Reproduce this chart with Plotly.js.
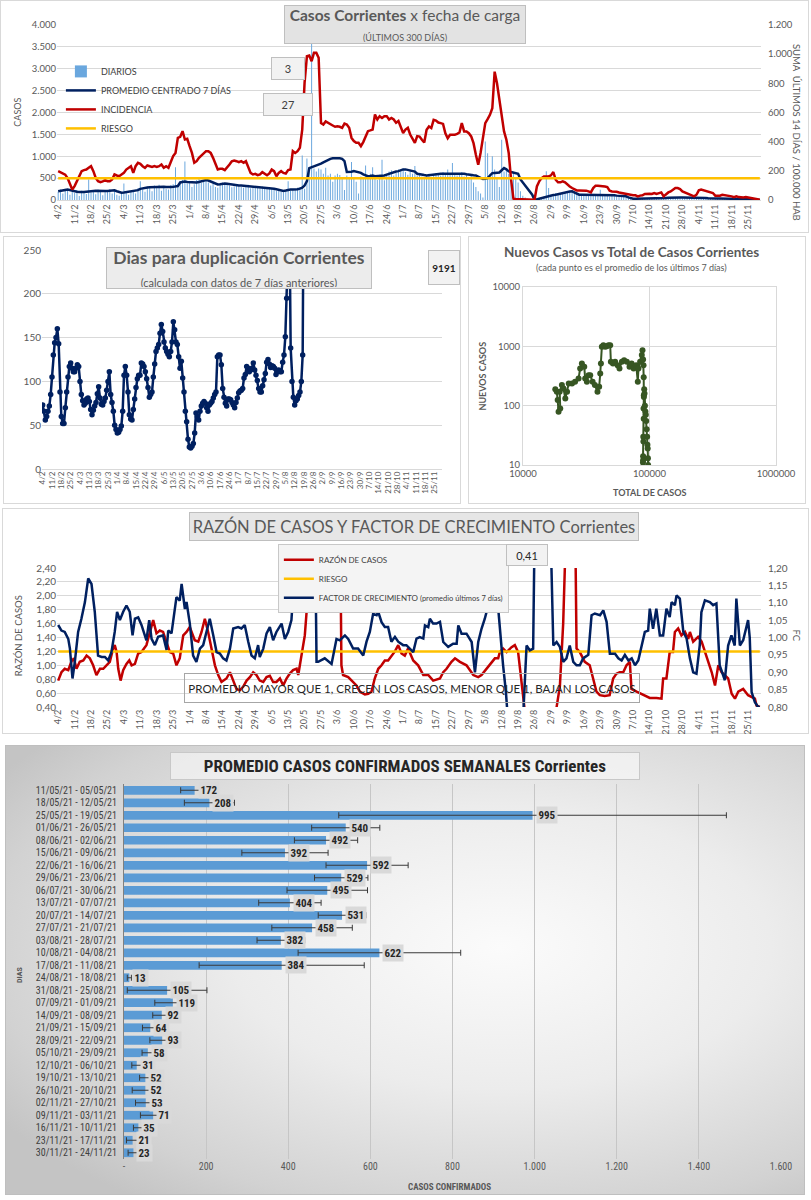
<!DOCTYPE html>
<html lang="es">
<head>
<meta charset="utf-8">
<title>Corrientes</title>
<script src="https://cdn.plot.ly/plotly-3.0.1.min.js"></script>
<style>
html,body{margin:0;padding:0;background:#ffffff;}
body{position:relative;width:811px;height:1200px;overflow:hidden;}
.panel{position:absolute;outline:1px solid #d9d9d9;outline-offset:-1px;background:#ffffff;}
#c5{background:radial-gradient(ellipse 75% 70% at 62% 45%, #fbfbfb 0%, #ececec 45%, #d2d2d2 85%, #c4c4c4 100%);outline-color:#bfbfbf;}
</style>
</head>
<body>
<div id="c1" class="panel" style="left:0px;top:0px;width:809px;height:233px;"></div>
<div id="c2" class="panel" style="left:3px;top:236px;width:458px;height:268px;"></div>
<div id="c3" class="panel" style="left:468px;top:236px;width:338px;height:268px;"></div>
<div id="c4" class="panel" style="left:2px;top:508px;width:807px;height:226px;"></div>
<div id="c5" class="panel" style="left:5px;top:745px;width:800px;height:450px;"></div>
<script>
// ================= DATA =================
const START_DATE = '2021-02-04';   // day 0 of the 300-day window

// Chart 1: daily cases (left axis, CASOS)
const diarios = [
 190,240,150,260,230,120,200, 160,230,90,210,180,140,470, 170,220,130,240,190,110,230,
 210,250,150,240,120,100,180, 380,160,120,200,230,150,270, 430,240,190,310,280,200,330,
 290,350,210,320,260,240,340, 360,750,320,420,460,880,380, 410,300,360,460,520,390,450,
 480,400,330,380,300,280,390, 400,350,380,330,290,310,360, 340,300,280,320,350,270,300,
 320,290,270,310,280,260,290, 260,240,210,230,190,180,220, 430,210,230,250,280,300,1020,
 260,950,680,5000,720,650,720, 700,600,740,560,600,420,560, 600,570,480,230,560,480,870,
 500,420,150,540,480,790,560, 600,750,500,460,580,920,450, 600,650,680,560,620,700,660,
 720,640,580,690,600,780,560, 600,540,500,560,600,520,580, 620,580,560,640,600,700,580,
 845,600,560,620,640,540,600, 520,560,400,300,200,150,60, 1340,1070,600,1000,700,500,300,
 1375,650,700,600,550,640,500, 400,200,100,60,30,10,5, 0,20,40,60,80,655,275,
 120,140,160,130,150,180,170, 190,200,180,160,140,130,110, 120,110,130,100,90,120,110,
 235,100,90,110,80,100,110, 90,100,80,70,90,50,40, 30,25,35,30,25,30,35,
 30,25,30,35,30,25,30, 45,50,60,55,65,60,70, 60,55,65,60,50,65,60,
 70,55,50,45,40,35,40, 35,30,40,35,30,35,30, 30,25,30,20,25,20,25, 20,15,10,10,5,5
];
// 7-day centred average (left axis)
const promedio = [
 200,205,215,230,240,225,205,195,190,185, 180,185,190,200,200,205,210,205,200,200,
 205,205,210,215,220,200,175,165,170,180, 190,200,205,210,225,255,270,280,285,290,
 295,300,300,305,310,305,295,290,295,300, 305,320,400,415,420,410,405,400,395,400,
 410,430,450,455,445,420,400,375,355,360, 375,375,370,360,345,340,335,330,330,325,
 320,315,315,315,310,305,300,295,290,285, 275,265,255,245,230,220,205,215,235,240,
 240,240,245,260,280,330,430,730,750,760, 775,800,830,860,890,920,940,955,960,960,
 955,940,890,640,635,645,660,650,640,620, 585,560,545,550,560,545,550,555,550,560,
 580,600,620,640,650,660,680,700,700,690, 685,670,650,600,585,575,570,562,570,580,
 585,593,597,600,600,600,605,610,615,615, 615,615,610,600,590,577,570,565,562,540,
 500,479,485,500,560,615,620,625,630,680, 730,700,655,640,625,615,600,470,400,330,
 270,210,120,0,15,30,50,70,84,95, 105,115,121,135,150,165,174,185,195,198,
 170,140,121,121,121,121,121,115,110,107, 107,107,107,107,107,107,107,107,100,95,
 90,87,84,60,40,30,30,30,30,30, 30,30,30,30,30,30,30,30,30,45,
 50,55,60,60,60,60,60,60,60,60, 60,60,60,60,55,50,45,40,35,35,
 35,35,35,35,35,35,30,30,25,25, 25,25,22,20,20,15,12,8,4,0
];
// 14-day incidence per 100.000 inhabitants (right axis)
const incidencia = [
 198,190,185,174,151,106,72,95,129,163, 198,205,209,221,232,198,152,129,122,128,
 136,129,129,141,175,168,163,175,186,209, 221,232,186,232,255,248,232,221,237,232,
 227,232,227,232,243,221,232,221,255,301, 323,426,433,472,415,420,369,323,255,266,
 289,305,323,335,335,323,289,243,209,214, 214,205,221,243,266,271,266,259,266,255,
 266,232,186,175,179,170,175,191,179,170, 182,209,198,163,186,198,186,182,205,209,
 335,323,335,358,483,803,986,991,952,1009, 1009,975,528,517,539,528,517,511,502,506,
 502,495,524,517,495,426,404,392,392,369, 397,438,472,477,483,586,552,575,563,575,
 575,552,563,552,529,541,502,460,483,495, 449,415,392,438,435,413,394,481,504,493,
 550,545,531,527,522,458,424,447,447,447, 454,463,527,470,470,458,436,390,310,242,
 322,436,527,554,584,629,880,800,686,550, 470,413,322,139,9,7,7,7,7,7,
 7,7,7,2,93,128,150,162,162,162, 169,192,139,121,121,128,121,105,93,82,
 75,66,66,66,64,64,59,52,82,98, 98,98,98,93,89,64,59,59,57,52,
 48,48,41,36,36,32,32,25,30,32, 41,43,43,41,48,41,48,52,25,41,
 52,59,71,82,82,75,59,52,43,36, 34,25,36,66,71,66,59,55,52,48,
 30,30,30,36,34,30,25,25,20,25, 20,18,18,20,18,14,11,9,5,2
];
const RIESGO_INCIDENCIA = 150;

// Chart 2: doubling days (one value per day from day 0)
const duplicacion = [
 73,66,56,60,66,72,85,105,130,144, 150,160,143,88,60,52,52,70,88,105,
 117,121,115,111,111,115,119,117,100,85, 78,73,75,80,81,77,68,62,67,72,
 76,86,94,81,74,73,77,81,90,100, 111,85,76,66,50,45,41,42,45,49,
 66,107,117,107,88,62,57,56,68,80, 93,103,107,107,121,120,117,111,103,93,
 82,85,88,105,120,134,138,142,155,165, 157,145,138,134,131,128,134,145,168,159,
 145,142,128,115,123,104,88,66,54,34, 25,24,26,29,41,64,60,56,66,72,
 75,77,75,70,66,73,75,77,81,85, 88,128,130,130,119,92,82,75,72,80,
 80,79,76,73,70,76,81,87,89,90, 92,104,108,117,115,111,113,115,121,113,
 107,101,92,88,88,95,102,109,122,125, 120,116,118,117,115,108,111,113,111,111,
 122,130,151,195,260,300,138,100,82,73, 78,80,84,88,100,130,400
];

// Chart 3: new cases vs total cases (7-day averages)
const totalCasos = [18000,18500,18800,19100,19700,19500,20300,20900,21600,22300,23000,24400,25800,27500,28300,29200,30500,31000,32000,33000,34000,35500,37000,38800,40000,40800,41300,42000,43200,44600,46000,47400,48900,49500,51400,53500,55900,57900,60500,63000,66200,69500,72200,74900,78500,80800,81800,84300,86900,88000,89000,89700,90000,90200,90000,89500,89000,88800,89000,89300,89700,90300,90800,91300,92000,92800,93500,94200,95000,95800,96300,96800,97200,97500];
const nuevosCasos = [190,171,124,79,90,171,222,195,132,171,236,236,253,287,423,514,451,287,253,327,327,253,222,171,208,348,514,980,1040,980,1000,1040,1040,550,514,550,480,423,550,585,550,451,514,423,480,253,423,550,711,860,600,480,300,150,60,25,14,11,12,30,90,140,190,160,100,80,70,55,40,30,22,19,13,10];
const logXTicks = [10000,100000,1000000];
const logXText = ['10000','100000','1000000'];
const logYTicks = [10,100,1000,10000];
const logYText = ['10','100','1000','10000'];

// Chart 4: case ratio (left) and growth factor (right), [day, value]
const razonCasos = [[0,0.78],[1.4,0.90],[2.8,0.95],[4.3,0.93],[5.7,1.06],[6.7,1.10],[7.8,0.95],[9.2,1.05],[10.7,1.07],[12.1,1.14],[13.5,1.10],[14.9,1.00],[16.3,0.86],[17.8,0.95],[19.2,0.95],[20.6,1.00],[22,1.05],[23.4,1.24],[24.1,1.29],[24.9,1.19],[25.6,0.95],[26.6,0.78],[27.7,0.93],[29.1,1.02],[30.3,1.07],[31.3,1.00],[32.7,1.02],[34.1,1.17],[35.5,1.19],[37.6,1.29],[39.1,1.50],[40.5,1.65],[41.9,1.46],[43.3,1.50],[44.7,1.48],[46.2,1.34],[47.6,1.19],[49,1.17],[50.4,1.00],[51.8,1.10],[53.3,1.43],[54.7,1.48],[56.1,1.55],[58.2,1.36],[59.7,1.34],[61.1,1.48],[62.5,1.67],[63.9,1.48],[65.3,1.24],[66.8,1.00],[68.2,0.86],[69.6,0.76],[71.7,0.81],[73.2,0.90],[74.6,0.78],[76,0.66],[77.4,0.64],[78.8,0.69],[80.3,0.78],[81.7,0.83],[83.1,0.90],[84.5,0.86],[85.9,0.78],[87.4,0.76],[88.8,0.83],[90.2,0.85],[91.6,0.76],[93,0.76],[94.5,0.81],[95.9,0.71],[97.3,0.81],[98.7,0.88],[100.1,0.93],[101.6,0.95],[102.3,0.86],[103.7,1.14],[105.1,1.43],[106.5,2.05],[107.2,2.45],[109,3.2],[112,3.8],[116,3.5],[120.3,2.5],[120.7,1.00],[121.4,0.86],[123.6,0.83],[125.7,0.76],[127.1,0.71],[128.6,0.62],[130.7,0.58],[132.1,0.59],[133.5,0.62],[134.9,0.81],[136.4,0.95],[137.8,1.00],[139.2,1.07],[140.6,1.07],[142,1.14],[143.5,1.20],[144.9,1.29],[146.3,1.17],[147.7,1.14],[149.1,1.24],[151.3,1.07],[153.4,1.00],[155.6,0.86],[157.7,0.86],[159.8,0.78],[162.7,0.81],[164.1,0.90],[165.5,0.95],[167.6,1.05],[169.1,1.10],[171.2,1.05],[174,1.00],[176.9,0.86],[179,0.83],[180.4,0.86],[182.5,0.95],[184.7,1.05],[186.1,1.10],[187.5,1.10],[188.2,1.19],[189.6,1.24],[191.1,1.19],[193.2,1.26],[194.6,1.29],[196,1.19],[197.5,0.76],[198.9,0.42],[200,0],[212,0],[212.4,0.40],[213.8,0.70],[215.2,1.60],[216,2.5],[218,3.5],[220.5,2.5],[220.9,1.24],[222.3,1.19],[224.4,1.05],[226.5,1.00],[227.9,0.81],[229.4,0.62],[230.8,0.57],[232.9,0.56],[235,0.57],[236.5,0.81],[237.9,0.88],[239.3,0.90],[240.8,0.90],[242.2,1.00],[243.6,1.05],[244.3,0.66],[246.5,0.62],[249.3,0.57],[252.1,0.53],[255,0.53],[257.1,0.52],[257.8,0.81],[259.2,0.81],[260.6,1.19],[262,1.19],[262.8,1.48],[264.2,1.53],[265.6,1.43],[267.1,1.48],[268.5,1.38],[269.2,1.48],[270.6,1.34],[272.7,1.41],[274.2,1.34],[276.3,1.14],[278.5,0.90],[279.9,0.71],[281.3,1.00],[282.7,0.90],[284.1,0.86],[285.5,0.81],[287,0.59],[288.4,0.52],[289.8,0.62],[291.9,0.66],[294,0.57],[295.4,0.54],[296.9,0.52],[297.6,0.42],[299,0.40]];
const factorCrec = [[0,1.036],[1.4,1.020],[2.8,1.016],[4.3,0.996],[5,0.968],[6.1,0.882],[7.1,0.930],[8.5,1.016],[9.9,1.054],[11.4,1.102],[12.8,1.170],[14.2,1.154],[15.6,1.074],[17,0.948],[18.5,0.944],[19.9,0.944],[21.3,0.934],[22.7,0.958],[24.1,1.016],[25.1,1.074],[26.3,1.050],[27.7,1.074],[29.1,1.092],[30.5,1.074],[31.7,1.006],[32.7,1.054],[34.1,1.058],[35.5,1.036],[37.6,0.992],[38.8,1.050],[39.8,0.996],[41.2,0.978],[42.6,1.002],[44.7,1.006],[46.2,0.964],[46.9,1.020],[48.3,1.012],[49.3,1.064],[50.4,1.116],[51.8,1.106],[52.6,1.154],[54,1.082],[54.7,1.102],[56.1,1.040],[57.5,0.948],[58.9,0.930],[60.4,0.968],[61.8,0.978],[63.2,1.020],[64.6,1.054],[66.1,1.006],[67.5,0.958],[68.9,0.954],[70.3,0.940],[71.7,0.934],[73.2,0.968],[74.6,1.026],[76.7,1.030],[78.1,1.026],[79.5,1.036],[81,0.988],[82.4,0.948],[83.8,0.940],[85.2,0.978],[85.9,0.944],[87.4,0.968],[88.8,1.012],[90.2,1.030],[91.6,0.992],[93,1.016],[95.2,1.040],[96.6,0.996],[98,1.016],[99.4,1.050],[100.1,1.122],[101.3,1.092],[102.3,1.102],[103,1.150],[104.4,1.25],[106,1.40],[108,1.45],[109.5,1.30],[110.1,0.930],[110.8,0.930],[113.6,0.940],[116.5,0.924],[118.6,0.996],[120,0.992],[122.2,1.006],[123.6,0.996],[125.7,0.968],[127.8,0.968],[130,0.948],[131.4,0.988],[132.8,1.016],[134.2,1.068],[135.7,1.064],[136.4,1.074],[137.8,1.044],[139.2,1.030],[140.6,1.030],[142,0.988],[143.5,1.002],[144.9,0.988],[147,0.978],[148.4,0.978],[149.9,0.968],[151.3,0.958],[152.7,0.997],[154.1,1.001],[155.6,0.997],[156.3,1.035],[157.7,1.030],[158.4,1.054],[159.8,1.040],[161.2,1.040],[162.7,1.045],[164.1,0.987],[166.2,0.973],[168.3,0.982],[169.8,0.982],[170.5,1.035],[171.9,1.011],[174,1.011],[176.2,0.987],[177.6,0.900],[179,0.987],[180.4,1.025],[181.8,1.054],[183.3,1.093],[184.7,1.198],[185.4,1.30],[186.8,1.14],[188.2,1.025],[189.6,0.92],[190.8,0.843],[191.8,0.75],[195,0.70],[198.2,0.78],[199.6,0.977],[201,0.963],[202.4,0.968],[203.2,1.40],[206,1.50],[209.5,1.40],[211,0.977],[212.4,0.987],[213.8,0.973],[215.2,0.93],[216.6,0.94],[218,0.977],[219.5,0.93],[220.9,0.92],[222.3,0.92],[223.7,0.94],[225.9,0.95],[227.3,1.064],[228.7,1.069],[230.9,1.064],[232.3,1.078],[233.7,1.045],[235.1,0.953],[237.3,0.953],[238.7,0.94],[240.1,0.934],[241.5,0.95],[243,0.934],[244.4,0.94],[245.8,0.92],[247.2,0.934],[248.6,0.977],[250,1.016],[251.4,1.02],[252.1,1.083],[253.5,1.025],[254.9,1.083],[256.4,1.006],[257.8,1.006],[259.2,1.083],[260.6,1.059],[261.4,1.102],[262.8,1.093],[263.5,1.121],[264.9,1.112],[266.4,1.016],[267.8,0.997],[269.2,0.94],[270.6,0.90],[272,0.896],[273.4,0.977],[274.1,1.073],[275.6,1.107],[277.7,1.102],[279.1,1.093],[280.5,1.098],[281.9,0.92],[284.1,0.877],[285.5,0.977],[286.9,1.006],[288.3,0.977],[289,1.112],[290.5,0.977],[291.9,0.992],[294,1.05],[294.7,1.0],[295.5,0.843],[296.9,0.814],[298.3,0.80],[299,0.80]];
const RIESGO_RAZON = 1.2;

// Chart 5: weekly averages of confirmed cases
const semanas = ['11/05/21 - 05/05/21','18/05/21 - 12/05/21','25/05/21 - 19/05/21','01/06/21 - 26/05/21','08/06/21 - 02/06/21','15/06/21 - 09/06/21','22/06/21 - 16/06/21','29/06/21 - 23/06/21','06/07/21 - 30/06/21','13/07/21 - 07/07/21','20/07/21 - 14/07/21','27/07/21 - 21/07/21','03/08/21 - 28/07/21','10/08/21 - 04/08/21','17/08/21 - 11/08/21','24/08/21 - 18/08/21','31/08/21 - 25/08/21','07/09/21 - 01/09/21','14/09/21 - 08/09/21','21/09/21 - 15/09/21','28/09/21 - 22/09/21','05/10/21 - 29/09/21','12/10/21 - 06/10/21','19/10/21 - 13/10/21','26/10/21 - 20/10/21','02/11/21 - 27/10/21','09/11/21 - 03/11/21','16/11/21 - 10/11/21','23/11/21 - 17/11/21','30/11/21 - 24/11/21'];
const promSemanal = [172,208,995,540,492,392,592,529,495,404,531,458,382,622,384,13,105,119,92,64,93,58,31,52,52,53,71,35,21,23];
const errSemanal = [34,61,472,83,77,105,100,65,98,76,58,98,58,198,201,5,97,44,22,19,30,14,12,14,32,25,31,12,15,13];
const semXTicks = [0,200,400,600,800,1000,1200,1400,1600];
const semXText = ['-','200','400','600','800','1.000','1.200','1.400','1.600'];

// ================= HELPERS =================
const FONT = 'Lato, "Open Sans", sans-serif';
const NARROW = '"Liberation Sans Narrow", "Roboto Condensed", Roboto, sans-serif';
const TXT = '#595959';
const CFG = {staticPlot:true, displayModeBar:false};
const DAY_MS = 86400000;
const T0 = Date.parse(START_DATE + 'T00:00:00Z');
function dayToDate(d){ return new Date(T0 + d*DAY_MS).toISOString().replace('T',' ').slice(0,19); }
function frame(W,H,M){ return { X: p => (p - M.l)/(W - M.l - M.r), Y: p => 1 - (p - M.t)/(H - M.t - M.b) }; }
function note(f, cx, cy, text, font, extra){
  return Object.assign({xref:'paper', yref:'paper', x:f.X(cx), y:f.Y(cy), xanchor:'center', yanchor:'middle',
    showarrow:false, text:text, font:font, align:'center', valign:'middle'}, extra || {});
}
function dateAxis(fs){
  return {type:'date', range:[dayToDate(-0.5), dayToDate(299.5)], tick0:dayToDate(0), dtick:7*DAY_MS,
    tickformat:'%-d/%-m', tickangle:-90, tickfont:{size:fs, color:TXT}, showgrid:false, zeroline:false,
    ticks:'', automargin:false};
}

// ================= CHART 1 =================
(function(){
  const W=809, H=233, M={l:57.1, r:47.8, t:25, b:32.5, pad:0};
  const f = frame(W,H,M);
  const x = diarios.map((_,i)=>dayToDate(i));
  const data = [
    {type:'bar', x:x, y:diarios, name:'DIARIOS', marker:{color:'#6aa7de'}},
    {type:'scatter', mode:'lines', x:x, y:promedio, name:'PROMEDIO CENTRADO 7 DÍAS', line:{color:'#002060', width:2.5}},
    {type:'scatter', mode:'lines', x:x, y:incidencia, yaxis:'y2', name:'INCIDENCIA', line:{color:'#c00000', width:2.5}},
    {type:'scatter', mode:'lines', x:x, y:x.map(()=>RIESGO_INCIDENCIA), yaxis:'y2', name:'RIESGO', line:{color:'#ffc000', width:2.5}}
  ];
  const layout = {
    width:W, height:H, margin:M, paper_bgcolor:'rgba(0,0,0,0)', plot_bgcolor:'rgba(0,0,0,0)',
    separators:',.', font:{family:FONT, color:TXT, size:9.5}, bargap:0.58,
    showlegend:true,
    legend:{x:f.X(61), y:f.Y(57), xanchor:'left', yanchor:'top', bgcolor:'rgba(0,0,0,0)',
      font:{size:9, color:'#404040'}, tracegroupgap:0, traceorder:'normal'},
    xaxis: Object.assign(dateAxis(9), {showline:true, linecolor:'#d9d9d9'}),
    yaxis:{range:[0,4000], dtick:500, tickformat:',d', gridcolor:'#d9d9d9', zeroline:false, ticks:'',
      tickfont:{size:9.5, color:TXT}, automargin:false},
    yaxis2:{overlaying:'y', side:'right', range:[0,1200], dtick:200, tickformat:',d', showgrid:false,
      zeroline:false, ticks:'', tickfont:{size:9.5, color:TXT}, automargin:false, ticklabelstandoff:6},
    annotations:[
      note(f, 405, 24.5, '<b>Casos Corrientes</b> x fecha de carga<br><span style="font-size:9px">(ÚLTIMOS 300 DÍAS)</span>',
        {size:15.5, color:TXT, family:FONT}, {bgcolor:'#e3e3e3', bordercolor:'#bfbfbf', borderwidth:1, width:238, height:35}),
      note(f, 288.5, 68.5, '3', {size:11, color:'#404040', family:FONT}, {bgcolor:'#f2f2f2', bordercolor:'#bfbfbf', borderwidth:1, width:30, height:19}),
      note(f, 288.5, 105, '27', {size:11, color:'#404040', family:FONT}, {bgcolor:'#f2f2f2', bordercolor:'#bfbfbf', borderwidth:1, width:46, height:19}),
      note(f, 18, 112, 'CASOS', {size:9, color:TXT, family:FONT}, {textangle:-90}),
      note(f, 797, 133, 'SUMA  ÚLTIMOS 14 DÍAS / 100.000 HAB', {size:9.5, color:TXT, family:FONT}, {textangle:90})
    ]
  };
  Plotly.newPlot('c1', data, layout, CFG);
})();

// ================= CHART 2 =================
(function(){
  const W=458, H=268, M={l:39, r:18.8, t:14, b:34.7, pad:0};
  const f = frame(W,H,M);
  const x = duplicacion.map((_,i)=>dayToDate(i));
  const data = [{type:'scatter', mode:'lines+markers', x:x, y:duplicacion, name:'Días',
    line:{color:'#002060', width:2.5}, marker:{color:'#002060', size:5.5}, cliponaxis:true}];
  const layout = {
    width:W, height:H, margin:M, paper_bgcolor:'rgba(0,0,0,0)', plot_bgcolor:'rgba(0,0,0,0)',
    separators:',.', font:{family:FONT, color:TXT}, showlegend:false,
    xaxis: dateAxis(8),
    yaxis:{range:[0,250], dtick:50, gridcolor:'#d9d9d9', zeroline:true, zerolinecolor:'#d9d9d9', ticks:'',
      tickfont:{size:10, color:TXT}, automargin:false},
    annotations:[
      note(f, 236, 32, '<b>Dias para duplicación Corrientes</b><br><span style="font-size:11px">(calculada con datos de 7 días anteriores)</span>',
        {size:17.5, color:TXT, family:FONT}, {bgcolor:'#ececec', bordercolor:'#bfbfbf', borderwidth:1, width:262, height:38}),
      note(f, 441, 31.5, '<b>9191</b>', {size:10, color:'#262626', family:FONT}, {bgcolor:'#f2f2f2', bordercolor:'#bfbfbf', borderwidth:1, width:28, height:31})
    ]
  };
  Plotly.newPlot('c2', data, layout, CFG);
})();

// ================= CHART 3 =================
(function(){
  const W=338, H=268, M={l:54.7, r:30, t:50.7, b:39, pad:0};
  const f = frame(W,H,M);
  const data = [{type:'scatter', mode:'lines+markers', x:totalCasos, y:nuevosCasos,
    line:{color:'#375623', width:2}, marker:{color:'#375623', size:6}}];
  const layout = {
    width:W, height:H, margin:M, paper_bgcolor:'rgba(0,0,0,0)', plot_bgcolor:'rgba(0,0,0,0)',
    font:{family:FONT, color:TXT}, showlegend:false,
    xaxis:{type:'log', range:[4,6], tickmode:'array', tickvals:logXTicks, ticktext:logXText,
      gridcolor:'#d9d9d9', showline:true, mirror:true, linecolor:'#d9d9d9', zeroline:false, ticks:'',
      tickfont:{size:9.5, color:TXT}, automargin:false},
    yaxis:{type:'log', range:[1,4], tickmode:'array', tickvals:logYTicks, ticktext:logYText,
      gridcolor:'#d9d9d9', showline:true, mirror:true, linecolor:'#d9d9d9', zeroline:false, ticks:'',
      tickfont:{size:9.5, color:TXT}, automargin:false},
    annotations:[
      note(f, 163, 16, '<b>Nuevos Casos vs Total de Casos Corrientes</b>', {size:13.5, color:TXT, family:FONT}),
      note(f, 163, 31, '(cada punto es el promedio de los últimos 7 días)', {size:9, color:TXT, family:FONT}),
      note(f, 14, 140, '<b>NUEVOS CASOS</b>', {size:9, color:TXT, family:FONT}, {textangle:-90}),
      note(f, 181, 257, '<b>TOTAL DE CASOS</b>', {size:9, color:TXT, family:FONT})
    ]
  };
  Plotly.newPlot('c3', data, layout, CFG);
})();

// ================= CHART 4 =================
(function(){
  const W=807, H=226, M={l:55.1, r:47.8, t:59.7, b:27.3, pad:0};
  const f = frame(W,H,M);
  const xr = razonCasos.map(p=>dayToDate(p[0]));
  const xf = factorCrec.map(p=>dayToDate(p[0]));
  const xAll = diarios.map((_,i)=>dayToDate(i));
  const data = [
    {type:'scatter', mode:'lines', x:xr, y:razonCasos.map(p=>p[1]), name:'RAZÓN DE CASOS', line:{color:'#c00000', width:2.5}},
    {type:'scatter', mode:'lines', x:xAll, y:xAll.map(()=>RIESGO_RAZON), name:'RIESGO', line:{color:'#ffc000', width:2.5}},
    {type:'scatter', mode:'lines', x:xf, y:factorCrec.map(p=>p[1]), yaxis:'y2', name:'FACTOR DE CRECIMIENTO <span style="font-size:7.5px">(promedio últimos 7 días)</span>', line:{color:'#002060', width:2.5}}
  ];
  const layout = {
    width:W, height:H, margin:M, paper_bgcolor:'rgba(0,0,0,0)', plot_bgcolor:'rgba(0,0,0,0)',
    separators:',.', font:{family:FONT, color:TXT}, showlegend:true,
    legend:{x:f.X(276), y:f.Y(36), xanchor:'left', yanchor:'top', bgcolor:'#f4f4f4', bordercolor:'#c8c8c8', borderwidth:1,
      font:{size:8, color:'#404040'}, tracegroupgap:0, traceorder:'normal'},
    xaxis: dateAxis(9),
    yaxis:{range:[0.4,2.4], dtick:0.2, tickformat:'.2f', gridcolor:'#d9d9d9', zeroline:false, ticks:'',
      tickfont:{size:10, color:TXT}, automargin:false},
    yaxis2:{overlaying:'y', side:'right', range:[0.8,1.2], dtick:0.05, tickformat:'.2f', showgrid:false,
      zeroline:false, ticks:'', tickfont:{size:10, color:TXT}, automargin:false, ticklabelstandoff:6},
    annotations:[
      note(f, 412, 18, 'RAZÓN DE CASOS Y FACTOR DE CRECIMIENTO Corrientes', {size:16.5, color:TXT, family:FONT},
        {bgcolor:'#e6e6e6', bordercolor:'#bfbfbf', borderwidth:1, width:446, height:25}),
      note(f, 525.5, 47, '0,41', {size:11, color:'#262626', family:FONT}, {bgcolor:'#f2f2f2', bordercolor:'#bfbfbf', borderwidth:1, width:38, height:18}),
      note(f, 410, 179.5, 'PROMEDIO MAYOR QUE 1, CRECEN LOS CASOS, MENOR QUE 1, BAJAN LOS CASOS', {size:11.5, color:'#262626', family:FONT},
        {bgcolor:'rgba(0,0,0,0)', bordercolor:'#a6a6a6', borderwidth:1, width:452, height:26}),
      note(f, 16, 127, 'RAZÓN DE CASOS', {size:9.5, color:TXT, family:FONT}, {textangle:-90}),
      note(f, 795, 127, 'FC', {size:9.5, color:TXT, family:FONT}, {textangle:90})
    ]
  };
  Plotly.newPlot('c4', data, layout, CFG);
})();

// ================= CHART 5 =================
(function(){
  const W=800, H=450, M={l:119, r:24, t:38.7, b:35.7, pad:0};
  const f = frame(W,H,M);
  const data = [{type:'bar', orientation:'h', x:promSemanal, y:semanas, marker:{color:'#5b9bd5', line:{width:0}},
    error_x:{type:'data', array:errSemanal, visible:true, color:'#3a3a3a', thickness:1, width:3}}];
  const labels = semanas.map((c,i)=>({x:promSemanal[i], y:c, xref:'x', yref:'y', text:'<b>'+promSemanal[i]+'</b>',
    showarrow:false, xanchor:'left', yanchor:'middle', xshift:3, bgcolor:'#d9d9d9', borderpad:1.5,
    font:{family:NARROW, size:11, color:'#262626'}}));
  const layout = {
    width:W, height:H, margin:M, paper_bgcolor:'rgba(0,0,0,0)', plot_bgcolor:'rgba(0,0,0,0)',
    separators:',.', font:{family:NARROW, color:TXT}, showlegend:false, bargap:0.3,
    xaxis:{range:[0,1600], tickmode:'array', tickvals:semXTicks, ticktext:semXText, gridcolor:'#c6c6c6',
      zeroline:false, showline:false, ticks:'', tickfont:{size:10, color:TXT}, automargin:false},
    yaxis:{type:'category', range:[semanas.length-0.5, -0.5], showgrid:false, showline:true, linecolor:'#7f7f7f',
      ticks:'', tickfont:{size:10, color:'#404040'}, automargin:false, ticklabelstandoff:4},
    annotations: labels.concat([
      note(f, 400, 21, '<b>PROMEDIO CASOS CONFIRMADOS SEMANALES Corrientes</b>', {size:17, color:'#262626', family:NARROW},
        {bgcolor:'rgba(250,250,250,0.6)', bordercolor:'#c8c8c8', borderwidth:1, width:466, height:24}),
      note(f, 15, 230, '<b>DIAS</b>', {size:8, color:TXT, family:NARROW}, {textangle:-90}),
      note(f, 444, 442, '<b>CASOS CONFIRMADOS</b>', {size:9, color:TXT, family:NARROW})
    ])
  };
  Plotly.newPlot('c5', data, layout, CFG);
})();
</script>
</body>
</html>
